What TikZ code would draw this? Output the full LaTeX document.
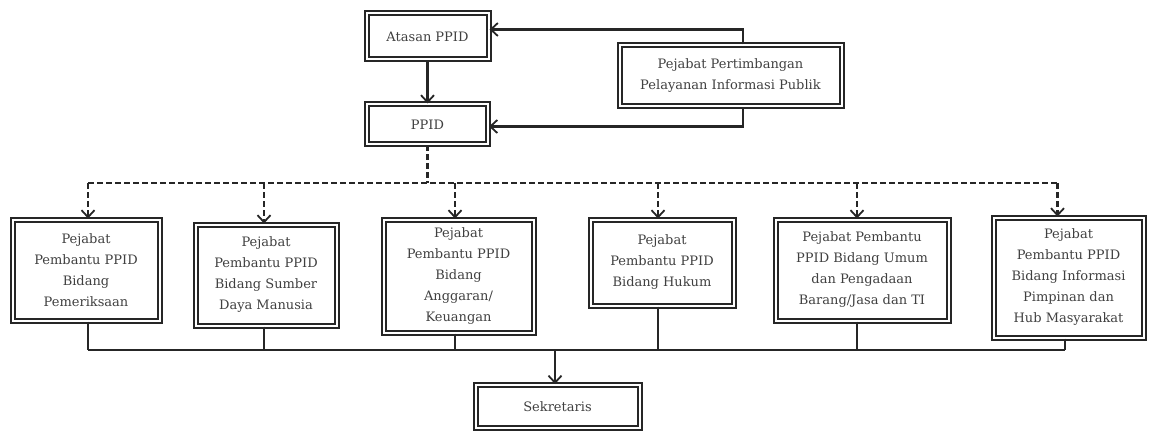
\documentclass[tikz,border=0pt]{standalone}
\usepackage{fontspec}
\setmainfont{DejaVu Serif}
\usetikzlibrary{arrows.meta,positioning}

\begin{document}
\begin{tikzpicture}[
  x=1pt, y=-1pt,
  box/.style={rectangle, draw=black!85, line width=2pt, double=white,
              double distance=2pt, align=center, inner sep=3pt,
              text=black!75, font=\fontsize{13}{21}\selectfont},
  line/.style={line width=2.2pt, draw=black!85},
  arr/.style={line, -{Straight Barb[length=7pt,width=13pt,line width=1.8pt]}},
  dline/.style={line, dash pattern=on 6pt off 3pt},
  darr/.style={dline, -{Straight Barb[length=7pt,width=13pt,line width=1.8pt]}}]
  \useasboundingbox (0,0) rectangle (1149,433);
  % top
  \node[box, minimum width=122pt, minimum height=46pt] (atasan) at (427.5,36.5) {Atasan PPID};
  \node[box, minimum width=121pt, minimum height=40pt, below=43pt of atasan] (ppid) {PPID};
  \node[box, minimum width=222pt, minimum height=61pt] (pert) at (730.5,76)
    {Pejabat Pertimbangan\\Pelayanan Informasi Publik};
  % row of pembantu
  \node[box, anchor=north, minimum width=147pt, minimum height=101pt] (pem) at (86,218.5)
    {Pejabat\\Pembantu PPID\\Bidang\\Pemeriksaan};
  \node[box, anchor=north, minimum width=141pt, minimum height=101pt] (sdm) at (266,223.5)
    {Pejabat\\Pembantu PPID\\Bidang Sumber\\Daya Manusia};
  \node[box, anchor=north, minimum width=150pt, minimum height=113pt] (ang) at (458.5,218.5)
    {Pejabat\\Pembantu PPID\\Bidang\\Anggaran/\\Keuangan};
  \node[box, anchor=north, minimum width=143pt, minimum height=86pt] (hukum) at (662,218.5)
    {Pejabat\\Pembantu PPID\\Bidang Hukum};
  \node[box, anchor=north, minimum width=173pt, minimum height=101pt] (umum) at (862,218.5)
    {Pejabat Pembantu\\PPID Bidang Umum\\dan Pengadaan\\Barang/Jasa dan TI};
  \node[box, anchor=north, minimum width=150pt, minimum height=120pt] (info) at (1068.5,216.5)
    {Pejabat\\Pembantu PPID\\Bidang Informasi\\Pimpinan dan\\Hub Masyarakat};
  \node[box, minimum width=164pt, minimum height=43pt] (sekr) at (557.5,406.5) {Sekretaris};
  % arrows
  \draw[arr] (atasan) -- (ppid);
  \draw[arr] ([xshift=12.5pt]pert.north) |- ([yshift=7pt]atasan.east);
  \draw[arr] ([xshift=12.5pt]pert.south) |- ([yshift=-2pt]ppid.east);
  \coordinate (dsplit) at (ppid.south |- 0,183);
  \draw[dline] (ppid) -- (dsplit);
  \draw[dline] ([xshift=2pt]pem.north |- dsplit) -- ([xshift=-11pt]info.north |- dsplit);
  \foreach \n/\dx in {pem/2, sdm/-2, ang/-3.5, hukum/-4, umum/-5, info/-11}
    \draw[darr] ([xshift=\dx pt]\n.north |- dsplit) -- ([xshift=\dx pt]\n.north);
  \coordinate (sbus) at (sekr.north |- 0,350);
  \foreach \n/\dx in {pem/2, sdm/-2, ang/-3.5, hukum/-4, umum/-5, info/-3.5}
    \draw[line] ([xshift=\dx pt]\n.south) -- ([xshift=\dx pt]\n.south |- sbus);
  \draw[line] ([xshift=2pt]pem.south |- sbus) -- ([xshift=-3.5pt]info.south |- sbus);
  \draw[arr] ([xshift=-2.5pt]sbus) -- ([xshift=-2.5pt]sekr.north);
\end{tikzpicture}
\end{document}
